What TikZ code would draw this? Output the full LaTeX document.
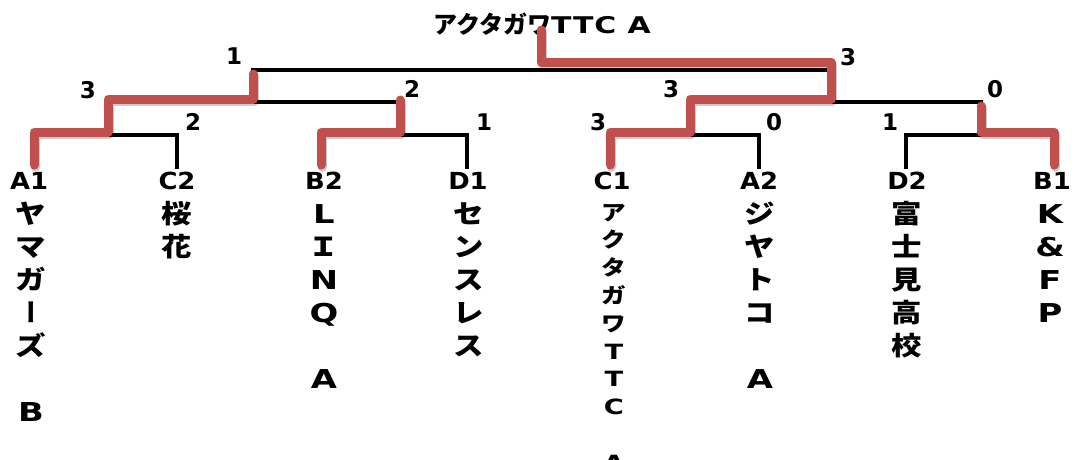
\documentclass[tikz,border=0pt]{standalone}
\usepackage{fontspec}
\setmainfont{Noto Sans CJK JP}
\newfontfamily\jpw[FakeStretch=1.17]{Noto Sans CJK JP}
\newfontfamily\vjp[RawFeature=+vert]{Noto Sans CJK JP}
\newfontfamily\latin{DejaVu Sans Bold}
\newfontfamily\latins[FakeStretch=1.1]{DejaVu Sans Bold}
\newfontfamily\latinw[FakeStretch=1.3]{DejaVu Sans Bold}
\usetikzlibrary{calc}
\definecolor{winred}{HTML}{C0504D}
\tikzset{
  bline/.style={line width=3.5pt},
  rline/.style={winred,line width=9pt,line cap=round,line join=round},
  rshade/.style={black,opacity=0.2,line width=9pt,line cap=round,line join=round,
    transform canvas={shift={(1.2pt,-2.4pt)}}},
  score/.style={font=\fontsize{23}{28}\selectfont\latin,inner sep=0pt},
  seed/.style={font=\fontsize{23.5}{28}\selectfont\latins,inner sep=0pt},
  namechar/.style={inner sep=0pt,anchor=base},
  namebig/.style={font=\fontsize{26}{30}\selectfont\jpw\bfseries},
  namesmall/.style={font=\fontsize{21}{24}\selectfont\jpw\bfseries}
}
\newcommand \bracket[3]
{
\draw[bline] (#1)--(#1 |- #2)--(#3 |- #2)--(#3);
}
\newcommand \winpath[1]
{
\draw[rshade] #1;
\draw[rline] #1;
}
\newcommand \teamname[6]
{
\foreach \ch [count=\i] in {#6}
  \node[namechar,#5] (#1c\i) at (#2,{#3+#4*(\i-1)}) {\ch};
}
\newcommand \lt[1]{{\latinw #1}}

\begin{document}
\begin{tikzpicture}[x=1pt,y=-1pt]
\useasboundingbox (0,0) rectangle (1078,459);
% leaves
\coordinate (a1) at (34,169);
\coordinate (c2) at (177,169);
\coordinate (b2) at (321,169);
\coordinate (d1) at (467,169);
\coordinate (c1) at (610,169);
\coordinate (a2) at (759,169);
\coordinate (d2) at (906,169);
\coordinate (b1) at (1054,169);
% rounds
\coordinate (m1) at (108,135);
\coordinate (m2) at (400,135);
\coordinate (m3) at (690,135);
\coordinate (m4) at (981,135);
\coordinate (s1) at (253,102);
\coordinate (s2) at (831,102);
\coordinate (fin) at (541,70);
\coordinate (champ) at (541,30);
\coordinate (e1) at (253,74);
\coordinate (e2) at (400,100);
\coordinate (e4) at (981,106);

\node[namechar,font=\fontsize{24}{28}\selectfont\bfseries] (ttl) at (542,33)
  {アクタガワ{\fontsize{23}{28}\selectfont\latinw\addfontfeature{LetterSpace=4}TTC A}};

\bracket{a1}{m1}{c2}
\bracket{b2}{m2}{d1}
\bracket{c1}{m3}{a2}
\bracket{d2}{m4}{b1}
\bracket{m1}{s1}{m2}
\bracket{m3}{s2}{m4}
\bracket{s1}{fin}{s2}

% winners
\winpath{([yshift=4pt]a1) |- ([yshift=3pt]m1) |- ([yshift=3pt]s1) -- (e1)}
\winpath{([yshift=4pt]b2) |- ([yshift=3pt]m2) -- (e2)}
\winpath{([yshift=4pt]c1) |- ([yshift=3pt]m3) |- ([yshift=3pt]s2) |- ([yshift=8pt]fin) -- (champ)}
\winpath{([yshift=4pt]b1) |- ([yshift=3pt]m4) -- (e4)}

% scores
\node[score] (f1)  at (234,56)  {1};
\node[score] (f2)  at (848,57)  {3};
\node[score] (s1l) at (88,90)   {3};
\node[score] (s1r) at (412,89)  {2};
\node[score] (s2l) at (671,89)  {3};
\node[score] (s2r) at (995,89)  {0};
\node[score] (q1)  at (193,122) {2};
\node[score] (q2)  at (484,122) {1};
\node[score] (q3l) at (598,122) {3};
\node[score] (q3r) at (774,122) {0};
\node[score] (q4)  at (890,122) {1};

% seeds
\node[seed] (a1l) at (29,181)   {A1};
\node[seed] (c2l) at (177,181)  {C2};
\node[seed] (b2l) at (324,181)  {B2};
\node[seed] (d1l) at (468,181)  {D1};
\node[seed] (c1l) at (612,181)  {C1};
\node[seed] (a2l) at (759,181)  {A2};
\node[seed] (d2l) at (907,181)  {D2};
\node[seed] (b1l) at (1052,181) {B1};

% team names
\teamname{a1}{31}{223}{33}{namebig}{ヤ,マ,ガ,{\vjp ー},ズ,,\lt{B}}
\teamname{c2}{177}{223}{33}{namebig}{桜,花}
\teamname{b2}{324}{223}{33}{namebig}{\lt{L},Ｉ,\lt{N},\lt{Q},,\lt{A}}
\teamname{d1}{469}{223}{33}{namebig}{セ,ン,ス,レ,ス}
\teamname{c1}{614}{220}{27.8}{namesmall}{ア,ク,タ,ガ,ワ,\lt{T},\lt{T},\lt{C},,\lt{A}}
\teamname{a2}{760}{223}{33}{namebig}{ジ,ヤ,ト,コ,,\lt{A}}
\teamname{d2}{907}{223}{33}{namebig}{富,士,見,高,校}
\teamname{b1}{1050}{223}{33}{namebig}{\lt{K},\lt{\&},\lt{F},\lt{P}}
\end{tikzpicture}
\end{document}
